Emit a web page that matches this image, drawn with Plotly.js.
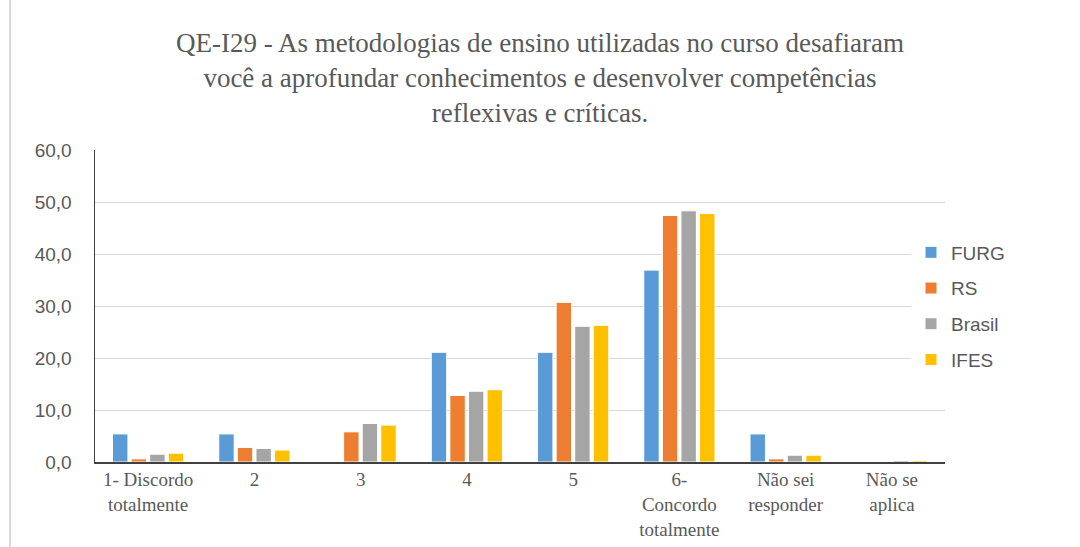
<!DOCTYPE html>
<html>
<head>
<meta charset="utf-8">
<script src="https://cdn.plot.ly/plotly-3.0.1.min.js"></script>
<style>
html,body{margin:0;padding:0;background:#fff;}
#wrap{position:absolute;left:0;top:0;width:1080px;height:547px;}
#chart{width:1080px;height:547px;}
</style>
</head>
<body>
<div id="wrap"><div id="chart"></div></div>
<script>
const categories = ["1- Discordo<br>totalmente", "2", "3", "4", "5", "6-<br>Concordo<br>totalmente", "Não sei<br>responder", "Não se<br>aplica"];
const seriesNames = ["FURG", "RS", "Brasil", "IFES"];
const furg   = [5.4, 5.4, 0.0, 21.1, 21.1, 36.9, 5.4, 0.0];
const rs     = [0.6, 2.8, 5.8, 12.8, 30.7, 47.4, 0.6, 0.0];
const brasil = [1.5, 2.6, 7.4, 13.6, 26.1, 48.3, 1.3, 0.3];
const ifes   = [1.7, 2.3, 7.1, 13.9, 26.3, 47.8, 1.3, 0.3];
const colors = ["#5B9BD5", "#ED7D31", "#A5A5A5", "#FFC000"];
const values = [furg, rs, brasil, ifes];

const traces = seriesNames.map((n, i) => ({
  type: "bar",
  name: n,
  x: categories,
  y: values[i],
  legendgroup: "g" + i,
  marker: {color: colors[i], line: {color: "#ffffff", width: 1}},
  hoverinfo: "x+y+name"
}));

const layout = {
  width: 1080,
  height: 547,
  separators: ", ",
  paper_bgcolor: "#ffffff",
  plot_bgcolor: "#ffffff",
  margin: {l: 95, r: 135, t: 150, b: 85},
  title: {
    text: "QE-I29 - As metodologias de ensino utilizadas no curso desafiaram<br>você a aprofundar conhecimentos e desenvolver competências<br>reflexivas e críticas.",
    font: {family: "Liberation Serif, Times New Roman, serif", size: 27, color: "#595959"},
    x: 0.5, xanchor: "center",
    yref: "container",
    y: 0.905, yanchor: "middle"
  },
  bargap: 0.3,
  bargroupgap: 0.17,
  xaxis: {
    type: "category",
    showgrid: false,
    showline: true,
    linecolor: "#404040",
    linewidth: 1.5,
    ticks: "",
    tickfont: {family: "Liberation Serif, Times New Roman, serif", size: 19, color: "#595959"},
    automargin: false
  },
  yaxis: {
    range: [0, 60],
    dtick: 10,
    tickformat: ".1f",
    showgrid: true,
    gridcolor: "#d9d9d9",
    gridwidth: 1,
    showline: true,
    linecolor: "#404040",
    linewidth: 1.5,
    zeroline: false,
    ticks: "",
    ticklabelstandoff: 18,
    tickfont: {family: "Liberation Sans, Arial, sans-serif", size: 19, color: "#595959"},
    automargin: false
  },
  showlegend: true,
  legend: {
    x: 0.96, xanchor: "left",
    y: 0.5, yanchor: "middle",
    bgcolor: "#ffffff",
    font: {family: "Liberation Sans, Arial, sans-serif", size: 19, color: "#595959"},
    tracegroupgap: 8,
    itemwidth: 30
  },
  shapes: [
    {type: "line", xref: "paper", yref: "paper", x0: -0.0999, x1: -0.0999, y0: -0.3, y1: 1.5,
     line: {color: "#d9d9d9", width: 2}}
  ]
};

Plotly.newPlot("chart", traces, layout, {displayModeBar: false, staticPlot: true});
</script>
</body>
</html>
